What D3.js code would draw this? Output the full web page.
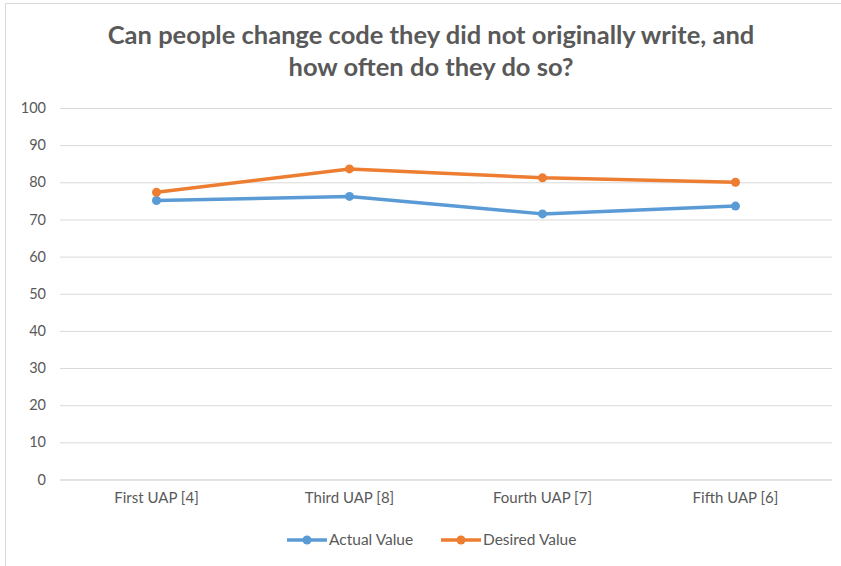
<!DOCTYPE html>
<html>
<head>
<meta charset="utf-8">
<script src="https://cdn.jsdelivr.net/npm/d3@7"></script>
<style>
  html, body { margin: 0; padding: 0; background: #ffffff; }
  svg { display: block; }
  text { font-family: Lato, "Open Sans", sans-serif; }
</style>
</head>
<body>
<svg id="chart" width="841" height="566"></svg>
<script>
// Survey results per UAP round
const categories = ["First UAP [4]", "Third UAP [8]", "Fourth UAP [7]", "Fifth UAP [6]"];
const actualValues = [75.1, 76.2, 71.5, 73.6];
const desiredValues = [77.3, 83.6, 81.2, 80.0];
const yTicks = [0, 10, 20, 30, 40, 50, 60, 70, 80, 90, 100];
const seriesNames = ["Actual Value", "Desired Value"];
const seriesColors = ["#5b9bd5", "#ed7d31"];
const titleLines = ["Can people change code they did not originally write, and", "how often do they do so?"];

const svg = d3.select("#chart");
const W = 841, H = 566;

// chart frame
svg.append("rect")
  .attr("x", 5.5).attr("y", 3.5)
  .attr("width", W + 10).attr("height", H + 10)
  .attr("fill", "#ffffff")
  .attr("stroke", "#d9d9d9").attr("stroke-width", 1);

const plot = { left: 60, right: 832, top: 108, bottom: 479.5 };

const x = d3.scaleBand().domain(categories).range([plot.left, plot.right]);
const y = d3.scaleLinear().domain([0, 100]).range([plot.bottom, plot.top]);

// title
const title = svg.append("text")
  .attr("text-anchor", "middle")
  .attr("fill", "#595959")
  .attr("font-weight", "bold")
  .attr("font-size", 25.5);
titleLines.forEach((t, i) => {
  title.append("tspan").attr("x", 431).attr("y", 44 + i * 32).text(t);
});

// gridlines and y labels
const yAxis = d3.axisLeft(y).tickValues(yTicks).tickSize(-(plot.right - plot.left)).tickPadding(14);
const gy = svg.append("g").attr("transform", `translate(${plot.left},0)`).call(yAxis);
gy.select(".domain").remove();
gy.selectAll(".tick line").attr("stroke", "#d9d9d9").attr("stroke-width", 1);
gy.selectAll(".tick text")
  .attr("fill", "#595959")
  .attr("font-size", 14.5)
  .style("font-family", "Lato, sans-serif");

// x labels
const xAxis = d3.axisBottom(x).tickSize(0).tickPadding(13);
const gx = svg.append("g").attr("transform", `translate(0,${plot.bottom})`).call(xAxis);
gx.select(".domain").attr("stroke", "#d9d9d9");
gx.selectAll(".tick text")
  .attr("fill", "#595959")
  .attr("font-size", 15)
  .style("font-family", "Lato, sans-serif");

// lines with markers
const series = [actualValues, desiredValues];
const line = d3.line()
  .x((d, i) => x(categories[i]) + x.bandwidth() / 2)
  .y(d => y(d));

series.forEach((vals, s) => {
  svg.append("path")
    .datum(vals)
    .attr("d", line)
    .attr("fill", "none")
    .attr("stroke", seriesColors[s])
    .attr("stroke-width", 3.5)
    .attr("stroke-linejoin", "round")
    .attr("stroke-linecap", "round");
  svg.append("g").selectAll("circle")
    .data(vals)
    .join("circle")
    .attr("cx", (d, i) => x(categories[i]) + x.bandwidth() / 2)
    .attr("cy", d => y(d))
    .attr("r", 4.5)
    .attr("fill", seriesColors[s]);
});

// legend
const legendItems = [
  { name: seriesNames[0], color: seriesColors[0], x: 287 },
  { name: seriesNames[1], color: seriesColors[1], x: 441 }
];
const legendY = 540;
legendItems.forEach(it => {
  const g = svg.append("g").attr("transform", `translate(${it.x},${legendY})`);
  g.append("line").attr("x1", 0).attr("x2", 40).attr("y1", 0).attr("y2", 0)
    .attr("stroke", it.color).attr("stroke-width", 3.5);
  g.append("circle").attr("cx", 20).attr("cy", 0).attr("r", 4.5).attr("fill", it.color);
  g.append("text").attr("x", 42).attr("y", 0).attr("dy", "0.35em")
    .attr("fill", "#595959").attr("font-size", 15.5).text(it.name);
});
</script>
</body>
</html>
